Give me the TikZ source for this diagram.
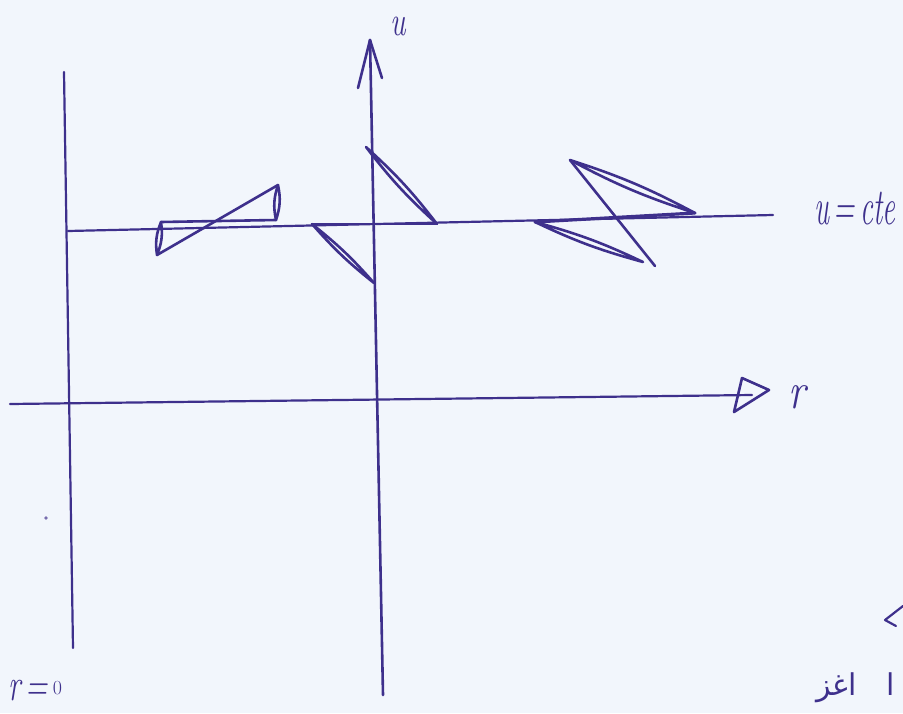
\documentclass[tikz,border=0pt]{standalone}
\usepackage{fontspec}
\newfontfamily\arabicfont[Script=Arabic]{DejaVu Sans}
\TeXXeTstate=1
\definecolor{ink}{RGB}{62,48,140}
\definecolor{paper}{RGB}{242,246,252}
\begin{document}
\begin{tikzpicture}[x=1pt,y=-1pt,
  pen/.style={draw=ink,line width=2.6pt,line cap=round,line join=round},
  thin pen/.style={draw=ink,line width=2.2pt,line cap=round,line join=round},
  lbl/.style={text=ink,inner sep=0pt,font=\itshape}]
\fill[paper] (0,0) rectangle (903,713);
\useasboundingbox (0,0) rectangle (903,713);
% coordinates
\coordinate (Lt) at (64,72);   \coordinate (Lb) at (73,648);
\coordinate (Hl) at (68,231);  \coordinate (Hr) at (773,215);
\coordinate (Rl) at (10,404);  \coordinate (Rr) at (752,395);
\coordinate (Ub) at (383,695); \coordinate (Ut) at (370,40);
\coordinate (Ua) at (358,88);  \coordinate (Ub2) at (382,78);
\coordinate (Ta) at (742,378); \coordinate (Tb) at (769,390); \coordinate (Tc) at (734,412);
% axes and lines
\draw[thin pen] (Lt) -- (Lb);
\draw[thin pen] (Hl) -- (Hr);
\draw[thin pen] (Rl) -- (Rr);
\draw[pen] (Ta) -- (Tb) -- (Tc) -- cycle;
\draw[pen] (Ub) -- (Ut);
\draw[pen] (Ua) -- (Ut) -- (Ub2);
% labels
\node[lbl,font=\itshape\fontsize{42}{42}\selectfont,anchor=base] (lu) at (398,35) {\scalebox{0.7}[1]{u}};
\node[lbl,font=\itshape\fontsize{52}{52}\selectfont,anchor=base west] (lcte) at (814,224) {\scalebox{0.55}[1]{u\,=\,cte}};
\node[lbl,font=\itshape\fontsize{52}{52}\selectfont,anchor=base] (lr) at (797,408) {\scalebox{0.8}[1]{r}};
\node[lbl,font=\itshape\fontsize{46}{46}\selectfont,anchor=base west] (lr0) at (8,700) {\scalebox{0.65}[1]{r\,=\,}\raisebox{6pt}{\upshape\fontsize{20}{20}\selectfont 0}};
\node[lbl,font=\arabicfont\fontsize{30}{30}\selectfont,anchor=base west] (lar) at (816,695) {\beginR ا\quad اغز\endR};
% stray marks
\draw[thin pen] (903,606) -- (885,620) -- (896,626);
\fill[ink!70] (46,518) circle (1.8);
% left bow-tie
\coordinate (A1) at (161,222); \coordinate (A2) at (157,255);
\coordinate (A3) at (276,220); \coordinate (A4) at (278,185);
\draw[pen] (A2) -- (A4);
\draw[pen] (A1) to[bend right=15] (A2) to[bend right=15] (A1);
\draw[pen] (A3) to[bend right=15] (A4) to[bend right=15] (A3);
\draw[pen] (A1) -- (A3);
% centre slivers
\coordinate (B1) at (366,147); \coordinate (B2) at (437,224);
\coordinate (B3) at (312,224); \coordinate (B4) at (374,283);
\draw[pen] (B1) to[bend left=5] (B2) to[bend left=5] (B1);
\draw[pen] (B3) to[bend left=5] (B4) to[bend left=5] (B3);
\draw[pen] (B3) -- (B2);
% right shape
\coordinate (C1) at (570,160); \coordinate (C2) at (695,213);
\coordinate (C3) at (535,222); \coordinate (C4) at (643,262);
\coordinate (C5) at (655,266);
\draw[pen] (C1) -- (C5);
\draw[pen] (C1) to[bend left=5] (C2) to[bend left=5] (C1);
\draw[pen] (C3) to[bend left=5] (C4) to[bend left=5] (C3);
\draw[pen,line width=3.2pt] (C3) -- (C2);
\end{tikzpicture}
\end{document}
